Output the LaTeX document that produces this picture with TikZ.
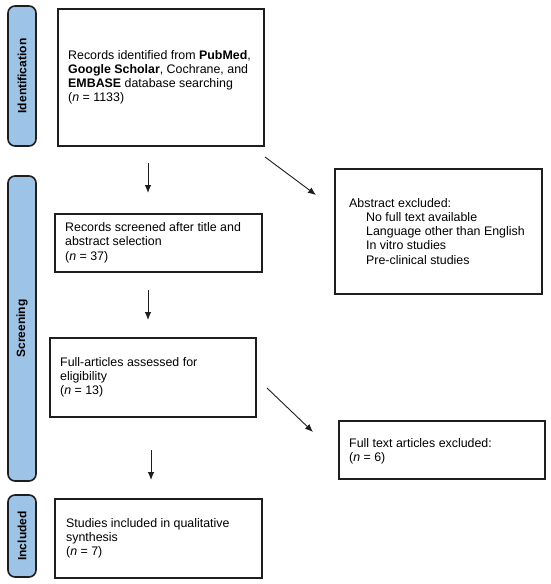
\documentclass[tikz,border=0pt]{standalone}
\usepackage{fontspec}
\setmainfont{Liberation Sans}
\usetikzlibrary{arrows.meta}
\definecolor{sideblue}{RGB}{157,195,230}
\definecolor{edge}{RGB}{30,30,30}
\begin{document}
\begin{tikzpicture}[x=1pt,y=-1pt,
  box/.style={draw=edge, line width=1.5pt, rectangle, anchor=north west, inner sep=0pt},
  txt/.style={anchor=west, inner sep=0pt, align=left, font=\fontsize{12.4}{14.2}\selectfont},
  side/.style={draw=edge, line width=1.6pt, fill=sideblue, rounded corners=7pt, rotate=90,
    minimum height=28pt, inner sep=0pt, font=\bfseries\fontsize{12}{14}\selectfont},
  arr/.style={-{Latex[length=8pt,width=6.5pt]}, line width=0.9pt, draw=edge}]
\useasboundingbox (0,0) rectangle (550,584);
% side labels
\node[side, minimum width=140pt] (sId) at (22,76) {Identification};
\node[side, minimum width=305pt] (sSc) at (22,328.5) {Screening};
\node[side, minimum width=82pt] (sIn) at (22,536) {Included};
% boxes
\node[box, minimum width=206pt, minimum height=137pt] (b1) at (57,8) {};
\node[txt] (b1t) at ([xshift=11pt]b1.west) {Records identified from \textbf{PubMed},\\\textbf{Google Scholar}, Cochrane, and\\\textbf{EMBASE} database searching\\(\textit{n} = 1133)};
\node[box, minimum width=207pt, minimum height=58pt] (b2) at (54,213) {};
\node[txt] (b2t) at ([xshift=11pt]b2.west) {Records screened after title and\\abstract selection\\(\textit{n} = 37)};
\node[box, minimum width=206pt, minimum height=79pt] (b3) at (49,337) {};
\node[txt] (b3t) at ([xshift=11pt]b3.west) {Full-articles assessed for\\eligibility\\(\textit{n} = 13)};
\node[box, minimum width=207pt, minimum height=79pt] (b4) at (54,498) {};
\node[txt] (b4t) at ([xshift=12pt]b4.west) {Studies included in qualitative\\synthesis\\(\textit{n} = 7)};
\node[box, minimum width=207pt, minimum height=125pt] (e1) at (334,168) {};
\node[txt] (e1t) at ([xshift=15pt]e1.west) {Abstract excluded:\\\hspace*{17pt}No full text available\\\hspace*{17pt}Language other than English\\\hspace*{17pt}In vitro studies\\\hspace*{17pt}Pre-clinical studies};
\node[box, minimum width=206pt, minimum height=58pt] (e2) at (338,420) {};
\node[txt] (e2t) at ([xshift=11pt,yshift=-1.5pt]e2.west) {Full text articles excluded:\\(\textit{n} = 6)};
% arrow end points
\coordinate (a1s) at (148,163); \coordinate (a1e) at (148,193);
\coordinate (a2s) at (148,290); \coordinate (a2e) at (148,320);
\coordinate (a3s) at (151,450); \coordinate (a3e) at (151,480);
\coordinate (d1s) at (265,157); \coordinate (d1e) at (316,195);
\coordinate (d2s) at (267,388); \coordinate (d2e) at (313,432);
\draw[arr] (a1s) -- (a1e);
\draw[arr] (a2s) -- (a2e);
\draw[arr] (a3s) -- (a3e);
\draw[arr] (d1s) -- (d1e);
\draw[arr] (d2s) -- (d2e);
\end{tikzpicture}
\end{document}
